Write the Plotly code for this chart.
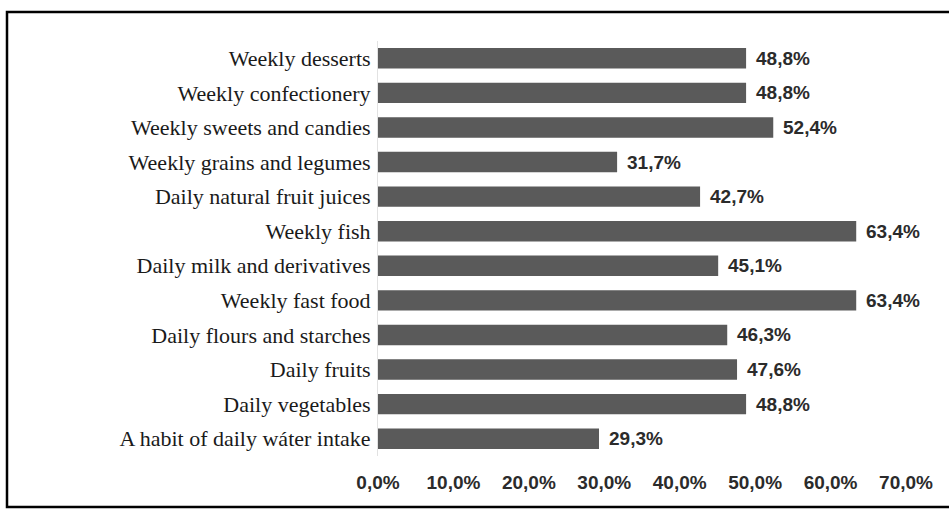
import plotly.graph_objects as go

# Food consumption habits (share of respondents), listed top to bottom
habits = [
    "Weekly desserts",
    "Weekly confectionery",
    "Weekly sweets and candies",
    "Weekly grains and legumes",
    "Daily natural fruit juices",
    "Weekly fish",
    "Daily milk and derivatives",
    "Weekly fast food",
    "Daily flours and starches",
    "Daily fruits",
    "Daily vegetables",
    "A habit of daily wáter intake",
]
shares = [48.8, 48.8, 52.4, 31.7, 42.7, 63.4, 45.1, 63.4, 46.3, 47.6, 48.8, 29.3]
tick_values = [0, 10, 20, 30, 40, 50, 60, 70]


def pct(v):
    return f"{v:.1f}".replace(".", ",") + "%"


tick_labels = [pct(v) for v in tick_values]
value_labels = [pct(v) for v in shares]

W, H = 949, 510
ML, MR, MT, MB = 378, 43, 41, 54
plot_w = W - ML - MR
plot_h = H - MT - MB

BAR = "#5a5a5a"
LABEL = "#2b2b2b"
NUM_FONT = dict(family="Liberation Sans, Arial", size=19, color=LABEL, weight="bold")

fig = go.Figure(
    go.Bar(
        x=shares,
        y=habits,
        orientation="h",
        marker=dict(color=BAR, line=dict(width=0)),
        hoverinfo="skip",
    )
)

# value labels just past the end of each bar
for h, v, t in zip(habits, shares, value_labels):
    fig.add_annotation(
        x=v, y=h, text=t, showarrow=False,
        xanchor="left", yanchor="middle", xshift=8,
        font=NUM_FONT,
    )


def px_to_paper_x(px):
    return (px - ML) / plot_w


def px_to_paper_y(py):
    return (H - MB - py) / plot_h


# black frame around the chart (right side runs past the edge)
fig.add_shape(
    type="rect", xref="paper", yref="paper",
    x0=px_to_paper_x(7), x1=px_to_paper_x(960),
    y0=px_to_paper_y(507), y1=px_to_paper_y(12),
    line=dict(color="black", width=2.5),
    fillcolor="rgba(0,0,0,0)",
    layer="above",
)

fig.update_layout(
    width=W, height=H,
    margin=dict(l=ML, r=MR, t=MT, b=MB, pad=0),
    paper_bgcolor="white",
    plot_bgcolor="white",
    showlegend=False,
    bargap=0.41,
    xaxis=dict(
        range=[0, 70],
        tickvals=tick_values,
        ticktext=tick_labels,
        showgrid=False,
        zeroline=False,
        showline=False,
        ticks="",
        ticklabelstandoff=13,
        tickfont=NUM_FONT,
        fixedrange=True,
    ),
    yaxis=dict(
        categoryorder="array",
        categoryarray=habits,
        autorange="reversed",
        showgrid=False,
        zeroline=False,
        showline=True,
        linecolor="#e2e2e2",
        linewidth=1,
        ticks="",
        ticklabelstandoff=2,
        tickfont=dict(family="Liberation Serif, Times New Roman", size=22, color="#1a1a1a"),
        fixedrange=True,
    ),
)

fig.write_html("out.html")
